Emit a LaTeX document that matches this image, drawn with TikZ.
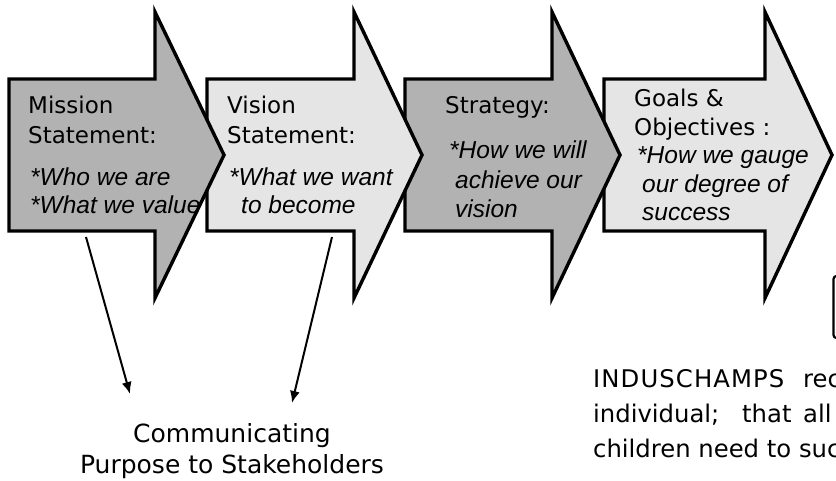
\documentclass[tikz,border=0pt]{standalone}
\usepackage{fontspec}
\setmainfont{Liberation Sans}
\newfontfamily\dejavu{DejaVu Sans}
\newfontfamily\dejavuwide[LetterSpace=4.5]{DejaVu Sans}
\usetikzlibrary{arrows.meta}
\definecolor{darkfill}{HTML}{B2B2B2}
\definecolor{lightfill}{HTML}{E5E5E5}
\tikzset{
  chev/.style={draw=black, line width=3.4pt, line join=miter, miter limit=10},
  hd/.style={anchor=base west, inner sep=0pt, font=\dejavu\fontsize{23}{28}\selectfont},
  it/.style={anchor=base west, inner sep=0pt, font=\fontsize{24.5}{28}\selectfont\itshape},
  para/.style={anchor=base west, inner sep=0pt, font=\dejavu\fontsize{24.3}{35}\selectfont},
  bot/.style={anchor=base, inner sep=0pt, font=\dejavu\fontsize{25}{31}\selectfont},
  link/.style={line width=2pt, -{Latex[length=12pt,width=10pt]}}
}
\begin{document}
\begin{tikzpicture}[x=1pt,y=-1pt]
\clip (0,0) rectangle (836,480);
\fill[white] (0,0) rectangle (836,480);

% Arrow 4
\draw[chev, fill=lightfill] (604,79) -- (765,79) -- (765,12) -- (832,155) -- (765,298) -- (765,231) -- (604,231) -- cycle;
\node[hd] (g1) at (634,106) {Goals \&};
\node[hd] (g2) at (634,135) {Objectives :};
\node[it] (g3) at (637,163) {*How we gauge};
\node[it] (g4) at (642,192) {our degree of};
\node[it] (g5) at (642,220) {success};

% Arrow 3
\draw[chev, fill=darkfill] (405,79) -- (552,79) -- (552,12) -- (620,155) -- (552,298) -- (552,231) -- (405,231) -- cycle;
\node[hd] (s1) at (445,113) {Strategy:};
\node[it] (s2) at (449,158) {*How we will};
\node[it] (s3) at (455,188) {achieve our};
\node[it] (s4) at (455,217) {vision};

% Arrow 2
\draw[chev, fill=lightfill] (207,79) -- (354,79) -- (354,12) -- (422,155) -- (354,298) -- (354,231) -- (207,231) -- cycle;
\node[hd] (v1) at (227,113) {Vision};
\node[hd] (v2) at (227,143) {Statement:};
\node[it] (v3) at (229,185) {*What we want};
\node[it] (v4) at (241,213) {to become};

% Arrow 1
\draw[chev, fill=darkfill] (9,79) -- (155,79) -- (155,12) -- (224,155) -- (155,298) -- (155,231) -- (9,231) -- cycle;
\node[hd] (m1) at (28,113) {Mission};
\node[hd] (m2) at (28,143) {Statement:};
\node[it] (m3) at (30,185) {*Who we are};
\node[it] (m4) at (30,213) {*What we value};

% Partial box at right edge
\draw[line width=2.2pt, rounded corners=3pt] (845,276) -- (833.5,276) -- (833.5,338) -- (845,338);

% Bottom text
\node[bot] (c1) at (232,442) {Communicating};
\node[bot] (c2) at (232,473) {Purpose to Stakeholders};

\coordinate (a1s) at (86,237);
\coordinate (a1e) at (130,394);
\coordinate (a2s) at (332,237);
\coordinate (a2e) at (292,403);
\draw[link] (a1s) -- (a1e);
\draw[link] (a2s) -- (a2e);

% Paragraph (clipped at right, as in the reference)
\node[para, font=\dejavuwide\fontsize{24.3}{35}\selectfont] (p1) at (593,387) {INDUSCHAMPS};
\node[para] (p2) at (803,387) {rec};
\node[para] (p3) at (593,422) {individual;};
\node[para] (p4) at (742,422) {that};
\node[para] (p5) at (803,422) {all};
\node[para] (p6) at (593,457) {children need to suc};
\end{tikzpicture}
\end{document}
